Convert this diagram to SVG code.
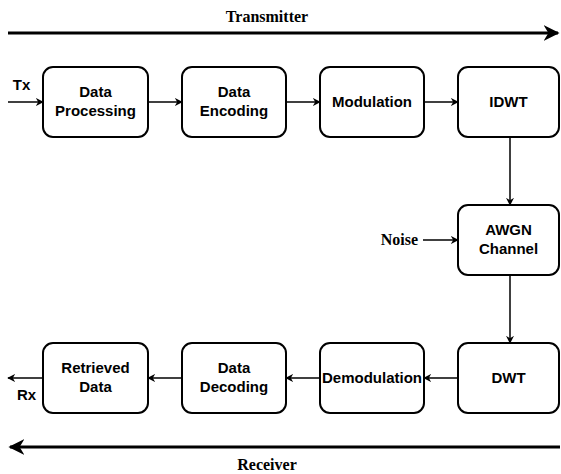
<svg xmlns="http://www.w3.org/2000/svg" width="561" height="474" viewBox="0 0 561 474">
<style>
.box{fill:#fff;stroke:#000;stroke-width:2}
.t{font-family:"Liberation Sans",Arial,sans-serif;font-weight:bold;font-size:15px;text-anchor:middle;fill:#000}
.s{font-family:"Liberation Serif","Times New Roman",serif;font-weight:bold;font-size:16px;fill:#000}
.c{stroke:#000;stroke-width:1.5;fill:none;marker-end:url(#a)}
.big{stroke:#000;stroke-width:3;fill:none;marker-end:url(#b)}
</style>
<defs>
<marker id="a" viewBox="0 0 10 10" refX="9" refY="5" markerWidth="8" markerHeight="8" markerUnits="userSpaceOnUse" orient="auto"><path d="M0,0 L10,5 L0,10 L3,5 Z" fill="#000"/></marker>
<marker id="b" viewBox="0 0 10 10" refX="9" refY="5" markerWidth="16" markerHeight="16" markerUnits="userSpaceOnUse" orient="auto"><path d="M0,0 L10,5 L0,10 L3,5 Z" fill="#000"/></marker>
</defs>
<g id="connectors">
<line class="big" x1="8" y1="33" x2="558" y2="33"/>
<line class="big" x1="560" y1="447" x2="10" y2="447"/>
<line class="c" x1="8" y1="102" x2="43" y2="102"/>
<line class="c" x1="148" y1="102" x2="182" y2="102"/>
<line class="c" x1="286" y1="102" x2="320" y2="102"/>
<line class="c" x1="424" y1="102" x2="458" y2="102"/>
<line class="c" x1="510" y1="137" x2="510" y2="205"/>
<line class="c" x1="423" y1="240" x2="458" y2="240"/>
<line class="c" x1="510" y1="275" x2="510" y2="343"/>
<line class="c" x1="458" y1="378" x2="424" y2="378"/>
<line class="c" x1="320" y1="378" x2="286" y2="378"/>
<line class="c" x1="182" y1="378" x2="148" y2="378"/>
<line class="c" x1="43" y1="378" x2="8" y2="378"/>
</g>
<g id="labels">
<text class="s" x="267" y="22" text-anchor="middle">Transmitter</text>
<text class="s" x="267" y="470" text-anchor="middle">Receiver</text>
<text class="t" x="21.5" y="90">Tx</text>
<text class="t" x="26.5" y="400">Rx</text>
<text class="s" x="418" y="245" text-anchor="end">Noise</text>
</g>
<g id="n1"><rect class="box" x="43" y="67" width="105" height="70" rx="10"/><text class="t" x="95.5" y="97">Data</text><text class="t" x="95.5" y="116">Processing</text></g>
<g id="n2"><rect class="box" x="182" y="67" width="104" height="70" rx="10"/><text class="t" x="234" y="97">Data</text><text class="t" x="234" y="116">Encoding</text></g>
<g id="n3"><rect class="box" x="320" y="67" width="104" height="70" rx="10"/><text class="t" x="372" y="107">Modulation</text></g>
<g id="n4"><rect class="box" x="458" y="67" width="101" height="70" rx="10"/><text class="t" x="508.5" y="107">IDWT</text></g>
<g id="n5"><rect class="box" x="458" y="205" width="101" height="70" rx="10"/><text class="t" x="508.5" y="235">AWGN</text><text class="t" x="508.5" y="254">Channel</text></g>
<g id="n6"><rect class="box" x="458" y="343" width="101" height="70" rx="10"/><text class="t" x="508.5" y="383">DWT</text></g>
<g id="n7"><rect class="box" x="320" y="343" width="104" height="70" rx="10"/><text class="t" x="372" y="383">Demodulation</text></g>
<g id="n8"><rect class="box" x="182" y="343" width="104" height="70" rx="10"/><text class="t" x="234" y="373">Data</text><text class="t" x="234" y="392">Decoding</text></g>
<g id="n9"><rect class="box" x="43" y="343" width="105" height="70" rx="10"/><text class="t" x="95.5" y="373">Retrieved</text><text class="t" x="95.5" y="392">Data</text></g>
</svg>
